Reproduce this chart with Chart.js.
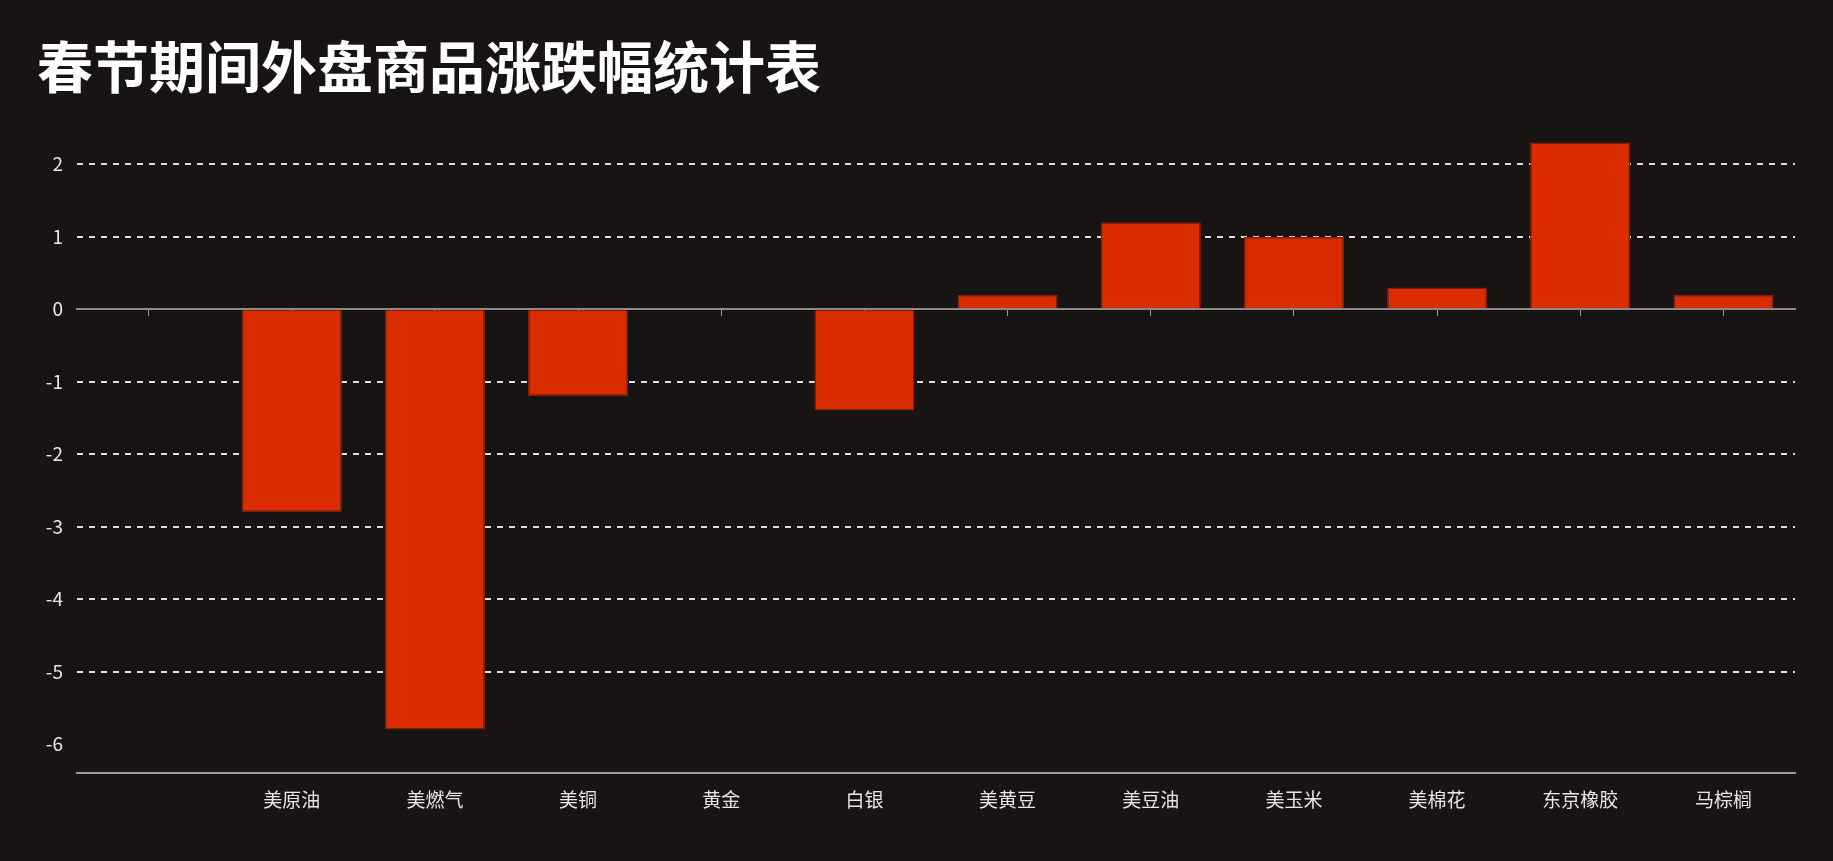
<!DOCTYPE html>
<html lang="zh-CN">
  <head>
    <meta charset="UTF-8" />
    <title>春节期间外盘商品涨跌幅统计表</title>
    <style>
      html, body { margin: 0; padding: 0; background: #171413; }
      #wrap { width: 100vw; height: 100vh; position: relative; }
    </style>
  </head>
  <body>
    <div id="wrap">
      <canvas id="changeChart"></canvas>
    </div>

    <script src="https://cdn.jsdelivr.net/npm/chart.js"></script>
    <script>
      const titleText = "春节期间外盘商品涨跌幅统计表";
      const categories = ["", "美原油", "美燃气", "美铜", "黄金", "白银", "美黄豆", "美豆油", "美玉米", "美棉花", "东京橡胶", "马棕榈"];
      const changes = [null, -2.8, -5.8, -1.2, 0, -1.4, 0.2, 1.2, 1.0, 0.3, 2.3, 0.2];
      const yTicks = [-6, -5, -4, -3, -2, -1, 0, 1, 2];

      Chart.defaults.font.family = '"Noto Sans CJK SC", "Noto Sans", sans-serif';

      let canvas = document.querySelector("#changeChart");
      let chart = new Chart(canvas, {
        type: "bar",
        data: {
          labels: categories,
          datasets: [
            {
              label: "涨跌幅",
              data: changes,
              backgroundColor: "#db2c00",
              borderColor: "#7d1f0e",
              borderWidth: (ctx) => (ctx.raw ? 1.5 : 0),
              barPercentage: 0.7,
              categoryPercentage: 1,
            },
          ],
        },
        options: {
          responsive: true,
          maintainAspectRatio: false,
          animation: false,
          layout: { padding: { left: 37, right: 38, top: 0, bottom: 0 } },
          plugins: {
            legend: { display: false },
            tooltip: { enabled: false },
            title: {
              display: true,
              text: titleText,
              align: "start",
              color: "#ffffff",
              font: { size: 56, weight: "bold" },
              padding: { top: 33, bottom: 35 },
            },
          },
          scales: {
            x: {
              type: "category",
              offset: true,
              grid: { display: false },
              border: { display: true, color: "#9a9a9a", width: 2 },
              ticks: { color: "#e6e6e6", font: { size: 19 }, padding: 7 },
              afterFit: (s) => { s.height = 88; },
            },
            x2: {
              type: "category",
              position: { y: 0 },
              offset: true,
              grid: {
                display: true,
                drawOnChartArea: false,
                drawTicks: true,
                tickLength: 6,
                offset: false,
                color: "#9a9a9a",
              },
              border: { display: true, color: "#8c8c8c", width: 2 },
              ticks: { display: false },
            },
            y: {
              min: -6.4,
              max: 2.4,
              afterBuildTicks: (axis) => {
                axis.ticks = yTicks.map((v) => ({ value: v }));
              },
              afterFit: (s) => { s.width = 40; },
              grid: {
                drawTicks: false,
                lineWidth: 2,
                color: (ctx) =>
                  ctx.tick && (ctx.tick.value === 0 || ctx.tick.value === -6)
                    ? "rgba(0,0,0,0)"
                    : "#dcdcdc",
              },
              border: { display: false, dash: [6, 6] },
              ticks: { color: "#e6e6e6", font: { size: 19 }, padding: 14 },
            },
          },
        },
      });
    </script>
  </body>
</html>
